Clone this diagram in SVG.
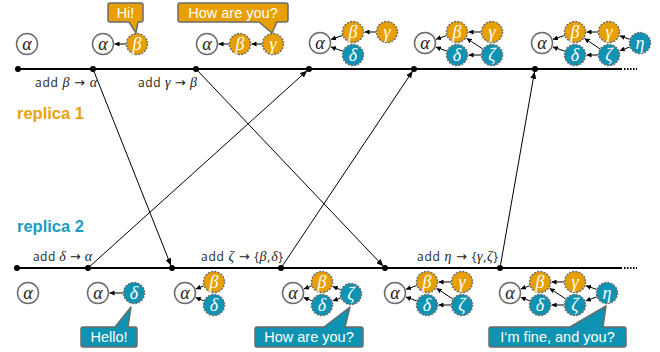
<svg xmlns="http://www.w3.org/2000/svg" width="660" height="352" viewBox="0 0 660 352">
<style>
.tl{stroke:#000;stroke-width:2;fill:none}
.tld{stroke:#000;stroke-width:2;fill:none;stroke-dasharray:1.5 1.5}
.dot{fill:#000}
.msg{stroke:#000;stroke-width:1;fill:none;marker-end:url(#big)}
.e{stroke:#000;stroke-width:1;fill:none;marker-end:url(#small)}
.a{fill:#fff;stroke:#6b6b6b;stroke-width:1.5}
.o{fill:#E8A000;stroke:#6b6b6b;stroke-width:1.5;stroke-dasharray:2 1.3}
.t{fill:#0E93B3;stroke:#6b6b6b;stroke-width:1.5;stroke-dasharray:2 1.3}
.g{font-family:"Liberation Serif","DejaVu Serif",serif;font-style:italic;font-size:18px;text-anchor:middle}
.gw{fill:#fff}
.gk{fill:#222}
.lbl{font-family:"Open Sans","DejaVu Sans",sans-serif;font-size:12px;fill:#222}
.lg{font-family:"Liberation Serif","DejaVu Serif",serif;font-style:italic;font-size:14px}
.ar{font-family:"DejaVu Sans",sans-serif;font-style:normal;font-size:13px}
.co{fill:#E8A000;stroke:#6b6b6b;stroke-width:1.5;stroke-linejoin:round}
.ct{fill:#0E93B3;stroke:#6b6b6b;stroke-width:1.5;stroke-linejoin:round}
.cx{font-family:"Liberation Sans",Arial,sans-serif;font-size:14.5px;fill:#fff;text-anchor:middle}
.rep{font-family:"Liberation Sans",Arial,sans-serif;font-size:16.5px;font-weight:bold}
</style>
<defs>
<marker id="small" markerUnits="userSpaceOnUse" markerWidth="5" markerHeight="5" refX="5" refY="2.5" orient="auto"><path d="M0,0 L5,2.5 L0,5 z" fill="#000"/></marker>
<marker id="big" markerUnits="userSpaceOnUse" markerWidth="7" markerHeight="6" refX="7" refY="3" orient="auto"><path d="M0,0 L7,3 L0,6 z" fill="#000"/></marker>
</defs>

<text class="rep" x="17" y="118.5" fill="#EBA10F">replica 1</text>
<text class="rep" x="17" y="232" fill="#1B9BC2">replica 2</text>

<g id="timelines">
<line class="tl" x1="17" y1="69" x2="622" y2="69"/>
<line class="tld" x1="624" y1="69" x2="637" y2="69"/>
<line class="tl" x1="17" y1="268" x2="622" y2="268"/>
<line class="tld" x1="624" y1="268" x2="637" y2="268"/>
<circle class="dot" cx="18" cy="69" r="3"/>
<circle class="dot" cx="93" cy="69" r="3"/>
<circle class="dot" cx="196" cy="69" r="3"/>
<circle class="dot" cx="309" cy="69" r="3"/>
<circle class="dot" cx="414" cy="69" r="3"/>
<circle class="dot" cx="535" cy="69" r="3"/>
<circle class="dot" cx="17" cy="268" r="3"/>
<circle class="dot" cx="88" cy="268" r="3"/>
<circle class="dot" cx="172" cy="268" r="3"/>
<circle class="dot" cx="281" cy="268" r="3"/>
<circle class="dot" cx="385" cy="268" r="3"/>
<circle class="dot" cx="500" cy="268" r="3"/>
</g>

<g id="connectors">
<line class="msg" x1="93" y1="69" x2="170.9" y2="265.4"/>
<line class="msg" x1="88" y1="268" x2="307.1" y2="70.7"/>
<line class="msg" x1="196" y1="69" x2="383.3" y2="266.2"/>
<line class="msg" x1="281" y1="268" x2="412.6" y2="71.1"/>
<line class="msg" x1="500" y1="268" x2="534.5" y2="71.7"/>

<line class="e" x1="126" y1="44" x2="114.5" y2="44"/>
<line class="e" x1="229" y1="44" x2="218.5" y2="44"/>
<line class="e" x1="262" y1="44" x2="251.5" y2="44"/>

<line class="e" x1="342.6" y1="35.5" x2="330.9" y2="39.4"/>
<line class="e" x1="342.7" y1="51.2" x2="330.8" y2="46.9"/>
<line class="e" x1="376" y1="32" x2="364.5" y2="32"/>

<line class="e" x1="446.6" y1="35.6" x2="435.9" y2="39.3"/>
<line class="e" x1="446.7" y1="51.1" x2="435.8" y2="47"/>
<line class="e" x1="481" y1="32" x2="468.5" y2="32"/>
<line class="e" x1="481" y1="55" x2="468.5" y2="55"/>
<line class="e" x1="482.8" y1="49" x2="466.6" y2="38.3"/>

<line class="e" x1="564.6" y1="35.5" x2="552.9" y2="39.4"/>
<line class="e" x1="564.7" y1="51.2" x2="552.8" y2="46.9"/>
<line class="e" x1="598" y1="32" x2="586.5" y2="32"/>
<line class="e" x1="598" y1="55" x2="586.5" y2="55"/>
<line class="e" x1="599.9" y1="48.8" x2="584.5" y2="38.4"/>
<line class="e" x1="629.6" y1="39.3" x2="619.8" y2="35.8"/>
<line class="e" x1="629.7" y1="47" x2="619.7" y2="50.8"/>

<line class="e" x1="123" y1="293" x2="109.5" y2="293"/>

<line class="e" x1="203.7" y1="285.9" x2="195.8" y2="288.9"/>
<line class="e" x1="203.8" y1="300.8" x2="195.6" y2="297.4"/>

<line class="e" x1="311.7" y1="285.9" x2="303.8" y2="288.9"/>
<line class="e" x1="311.8" y1="300.8" x2="303.6" y2="297.4"/>
<line class="e" x1="340.8" y1="289.8" x2="332.6" y2="286.4"/>
<line class="e" x1="340.7" y1="297.9" x2="332.8" y2="300.9"/>

<line class="e" x1="416.6" y1="285.6" x2="405.9" y2="289.3"/>
<line class="e" x1="416.7" y1="300.9" x2="405.8" y2="297"/>
<line class="e" x1="451" y1="282" x2="438.5" y2="282"/>
<line class="e" x1="451" y1="305" x2="438.5" y2="305"/>
<line class="e" x1="452.8" y1="299" x2="436.6" y2="288.3"/>

<line class="e" x1="529.7" y1="285.8" x2="520.8" y2="289"/>
<line class="e" x1="529.8" y1="300.9" x2="520.7" y2="297.3"/>
<line class="e" x1="564" y1="282" x2="551.5" y2="282"/>
<line class="e" x1="564" y1="305" x2="551.5" y2="305"/>
<line class="e" x1="565.8" y1="299" x2="549.6" y2="288.3"/>
<line class="e" x1="596.6" y1="289.4" x2="585.9" y2="285.7"/>
<line class="e" x1="596.7" y1="296.9" x2="585.8" y2="300.9"/>
</g>

<g id="labels">
<text class="lbl" x="35" y="87" textLength="62" lengthAdjust="spacing">add <tspan class="lg">β</tspan> <tspan class="ar">→</tspan> <tspan class="lg">α</tspan></text>
<text class="lbl" x="138" y="87" textLength="59" lengthAdjust="spacing">add <tspan class="lg">γ</tspan> <tspan class="ar">→</tspan> <tspan class="lg">β</tspan></text>
<text class="lbl" x="33" y="261" textLength="59" lengthAdjust="spacing">add <tspan class="lg">δ</tspan> <tspan class="ar">→</tspan> <tspan class="lg">α</tspan></text>
<text class="lbl" x="201" y="261" textLength="82" lengthAdjust="spacing">add <tspan class="lg">ζ</tspan> <tspan class="ar">→</tspan> {<tspan class="lg">β</tspan>,<tspan class="lg">δ</tspan>}</text>
<text class="lbl" x="417" y="261" textLength="81" lengthAdjust="spacing">add <tspan class="lg">η</tspan> <tspan class="ar">→</tspan> {<tspan class="lg">γ</tspan>,<tspan class="lg">ζ</tspan>}</text>
</g>

<g id="r1-s0">
<circle class="a" cx="27" cy="44" r="10.5"/><text class="g gk" x="27" y="49.5">α</text>
</g>
<g id="r1-s1">
<circle class="a" cx="103" cy="44" r="10.5"/><text class="g gk" x="103" y="49.5">α</text>
<circle class="o" cx="137" cy="44" r="10.5"/><text class="g gw" x="137" y="49.5">β</text>
</g>
<g id="r1-s2">
<circle class="a" cx="207" cy="44" r="10.5"/><text class="g gk" x="207" y="49.5">α</text>
<circle class="o" cx="240" cy="44" r="10.5"/><text class="g gw" x="240" y="49.5">β</text>
<circle class="o" cx="273" cy="44" r="10.5"/><text class="g gw" x="273" y="49.5">γ</text>
</g>
<g id="r1-s3">
<circle class="a" cx="320" cy="43" r="10.5"/><text class="g gk" x="320" y="48.5">α</text>
<circle class="o" cx="353" cy="32" r="10.5"/><text class="g gw" x="353" y="37.5">β</text>
<circle class="o" cx="387" cy="32" r="10.5"/><text class="g gw" x="387" y="37.5">γ</text>
<circle class="t" cx="353" cy="55" r="10.5"/><text class="g gw" x="353" y="60.5">δ</text>
</g>
<g id="r1-s4">
<circle class="a" cx="425" cy="43" r="10.5"/><text class="g gk" x="425" y="48.5">α</text>
<circle class="o" cx="457" cy="32" r="10.5"/><text class="g gw" x="457" y="37.5">β</text>
<circle class="o" cx="492" cy="32" r="10.5"/><text class="g gw" x="492" y="37.5">γ</text>
<circle class="t" cx="457" cy="55" r="10.5"/><text class="g gw" x="457" y="60.5">δ</text>
<circle class="t" cx="492" cy="55" r="10.5"/><text class="g gw" x="492" y="60.5">ζ</text>
</g>
<g id="r1-s5">
<circle class="a" cx="542" cy="43" r="10.5"/><text class="g gk" x="542" y="48.5">α</text>
<circle class="o" cx="575" cy="32" r="10.5"/><text class="g gw" x="575" y="37.5">β</text>
<circle class="o" cx="609" cy="32" r="10.5"/><text class="g gw" x="609" y="37.5">γ</text>
<circle class="t" cx="575" cy="55" r="10.5"/><text class="g gw" x="575" y="60.5">δ</text>
<circle class="t" cx="609" cy="55" r="10.5"/><text class="g gw" x="609" y="60.5">ζ</text>
<circle class="t" cx="640" cy="43" r="10.5"/><text class="g gw" x="640" y="48.5">η</text>
</g>

<g id="r2-s0">
<circle class="a" cx="28" cy="293" r="10.5"/><text class="g gk" x="28" y="298.5">α</text>
</g>
<g id="r2-s1">
<circle class="a" cx="98" cy="293" r="10.5"/><text class="g gk" x="98" y="298.5">α</text>
<circle class="t" cx="134" cy="293" r="10.5"/><text class="g gw" x="134" y="298.5">δ</text>
</g>
<g id="r2-s2">
<circle class="a" cx="185" cy="293" r="10.5"/><text class="g gk" x="185" y="298.5">α</text>
<circle class="o" cx="214" cy="282" r="10.5"/><text class="g gw" x="214" y="287.5">β</text>
<circle class="t" cx="214" cy="305" r="10.5"/><text class="g gw" x="214" y="310.5">δ</text>
</g>
<g id="r2-s3">
<circle class="a" cx="293" cy="293" r="10.5"/><text class="g gk" x="293" y="298.5">α</text>
<circle class="o" cx="322" cy="282" r="10.5"/><text class="g gw" x="322" y="287.5">β</text>
<circle class="t" cx="322" cy="305" r="10.5"/><text class="g gw" x="322" y="310.5">δ</text>
<circle class="t" cx="351" cy="294" r="10.5"/><text class="g gw" x="351" y="299.5">ζ</text>
</g>
<g id="r2-s4">
<circle class="a" cx="395" cy="293" r="10.5"/><text class="g gk" x="395" y="298.5">α</text>
<circle class="o" cx="427" cy="282" r="10.5"/><text class="g gw" x="427" y="287.5">β</text>
<circle class="o" cx="462" cy="282" r="10.5"/><text class="g gw" x="462" y="287.5">γ</text>
<circle class="t" cx="427" cy="305" r="10.5"/><text class="g gw" x="427" y="310.5">δ</text>
<circle class="t" cx="462" cy="305" r="10.5"/><text class="g gw" x="462" y="310.5">ζ</text>
</g>
<g id="r2-s5">
<circle class="a" cx="510" cy="293" r="10.5"/><text class="g gk" x="510" y="298.5">α</text>
<circle class="o" cx="540" cy="282" r="10.5"/><text class="g gw" x="540" y="287.5">β</text>
<circle class="o" cx="575" cy="282" r="10.5"/><text class="g gw" x="575" y="287.5">γ</text>
<circle class="t" cx="540" cy="305" r="10.5"/><text class="g gw" x="540" y="310.5">δ</text>
<circle class="t" cx="575" cy="305" r="10.5"/><text class="g gw" x="575" y="310.5">ζ</text>
<circle class="t" cx="607" cy="293" r="10.5"/><text class="g gw" x="607" y="298.5">η</text>
</g>

<g id="callout-hi">
<path class="co" d="M110,3 H141 Q143,3 143,5 V20 Q143,22 141,22 H138 L136,33 L129,22 H110 Q108,22 108,20 V5 Q108,3 110,3 Z"/>
<text class="cx" x="125.5" y="18">Hi!</text>
</g>
<g id="callout-how1">
<path class="co" d="M180,3 H286 Q288,3 288,5 V20 Q288,22 286,22 H277 L272,33 L259,22 H180 Q178,22 178,20 V5 Q178,3 180,3 Z"/>
<text class="cx" x="233" y="18">How are you?</text>
</g>
<g id="callout-hello">
<path class="ct" d="M83,327 H115 L131,307 L128,327 H135 Q137,327 137,329 V345 Q137,347 135,347 H83 Q81,347 81,345 V329 Q81,327 83,327 Z"/>
<text class="cx" x="109" y="342">Hello!</text>
</g>
<g id="callout-how2">
<path class="ct" d="M257,327 H324 L350,307 L345,327 H361 Q363,327 363,329 V345 Q363,347 361,347 H257 Q255,347 255,345 V329 Q255,327 257,327 Z"/>
<text class="cx" x="309" y="342">How are you?</text>
</g>
<g id="callout-fine">
<path class="ct" d="M491,327 H570 L606,306 L603,327 H624 Q626,327 626,329 V345 Q626,347 624,347 H491 Q489,347 489,345 V329 Q489,327 491,327 Z"/>
<text class="cx" x="557.5" y="342">I‘m fine, and you?</text>
</g>
</svg>
